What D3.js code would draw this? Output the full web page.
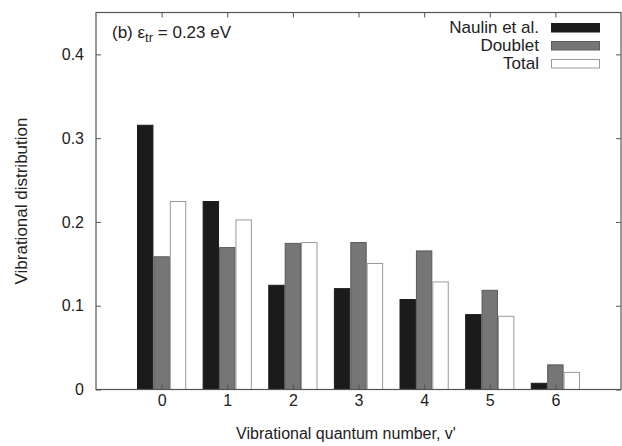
<!DOCTYPE html>
<html><head><meta charset="utf-8">
<script src="https://cdn.jsdelivr.net/npm/d3@7"></script>
<style>body{margin:0;background:#fff}svg{display:block;font-family:"Liberation Sans",Arial,sans-serif}</style>
</head><body><svg id="c" width="622" height="446"></svg>
<script>
const categories = [0,1,2,3,4,5,6];
const naulin  = [0.316,0.225,0.125,0.121,0.108,0.090,0.008];
const doublet = [0.159,0.170,0.175,0.176,0.166,0.119,0.030];
const total   = [0.225,0.203,0.176,0.151,0.129,0.088,0.021];
const seriesNames = ["Naulin et al.","Doublet","Total"];
const yTicks = [0,0.1,0.2,0.3,0.4];

const seriesVals = [naulin,doublet,total];
const fills = ["#1b1b1b","#767676","#ffffff"];
const strokes = ["#1b1b1b","#5a5a5a","#9a9a9a"];

const svg = d3.select("#c");
const L=96,R=621,T=12.5,B=389.5;
const x = d3.scaleLinear().domain([-1,7]).range([L,R]);
const y = d3.scaleLinear().domain([0,0.45]).range([B,T]);
const bw = 0.25;

seriesVals.forEach((vals,si)=>{
  svg.append("g").selectAll("rect").data(vals).enter().append("rect")
    .attr("x",(d,i)=>x(categories[i]+(si-1.5)*bw)+0.5)
    .attr("width",x(bw)-x(0)-1)
    .attr("y",d=>y(d)+0.5)
    .attr("height",d=>y(0)-y(d)-0.5)
    .attr("fill",fills[si]).attr("stroke",strokes[si]).attr("stroke-width",1);
});

const axColor="#555";
const fs=16, fsL=17;
// axes
const gl = svg.append("g").attr("transform",`translate(${L},0)`)
  .call(d3.axisLeft(y).tickValues(yTicks).tickSizeInner(-5).tickSizeOuter(0).tickPadding(12).tickFormat(d=>d===0?"0":d3.format(".1f")(d)));
const gr = svg.append("g").attr("transform",`translate(${R},0)`)
  .call(d3.axisRight(y).tickValues(yTicks).tickSizeInner(-5).tickSizeOuter(0).tickFormat(""));
const gb = svg.append("g").attr("transform",`translate(0,${B})`)
  .call(d3.axisBottom(x).tickValues(categories).tickSizeInner(-5).tickSizeOuter(0).tickPadding(5).tickFormat(d3.format("d")));
const gt = svg.append("g").attr("transform",`translate(0,${T})`)
  .call(d3.axisTop(x).tickValues(categories).tickSizeInner(-5).tickSizeOuter(0).tickFormat(""));
[gl,gr,gb,gt].forEach(g=>{
  g.select(".domain").remove();
  g.selectAll(".tick line").attr("stroke",axColor);
  g.selectAll("text").attr("font-size",fs).attr("fill","#222").attr("font-family","Liberation Sans, Arial, sans-serif");
});
svg.append("rect").attr("x",L).attr("y",T).attr("width",R-L).attr("height",B-T)
  .attr("fill","none").attr("stroke",axColor).attr("stroke-width",1.2);

// labels
svg.append("text").attr("x",346).attr("y",439).attr("text-anchor","middle")
  .attr("font-size",fs).attr("fill","#222").text("Vibrational quantum number, v'");
svg.append("text").attr("transform",`translate(27,${(T+B)/2}) rotate(-90)`).attr("text-anchor","middle")
  .attr("font-size",fsL).attr("fill","#222").text("Vibrational distribution");

// annotation
const ann = svg.append("text").attr("x",112).attr("y",38).attr("font-size",fsL).attr("fill","#222");
ann.append("tspan").text("(b) ε");
ann.append("tspan").attr("dy",4).attr("font-size",13).text("tr");
ann.append("tspan").attr("dy",-4).text(" = 0.23 eV");

// legend
const lg = svg.append("g");
seriesNames.forEach((n,i)=>{
  const yy = 23.5+i*18;
  lg.append("rect").attr("x",551.5).attr("y",yy).attr("width",48).attr("height",8.5)
    .attr("fill",fills[i]).attr("stroke",strokes[i]);
  lg.append("text").attr("x",539).attr("y",yy+9.5).attr("text-anchor","end")
    .attr("font-size",fsL).attr("fill","#222").text(n);
});
</script></body></html>
